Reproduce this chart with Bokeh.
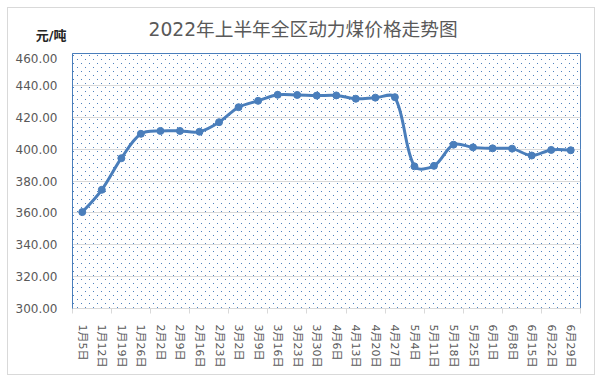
import base64, math, struct, zlib
from bokeh.plotting import figure
from bokeh.layouts import column
from bokeh.models import (Range1d, FixedTicker, NumeralTickFormatter,
                          BoxAnnotation, ImageURLTexture, ColumnDataSource)
from bokeh.core.properties import value
from bokeh.embed import file_html
from bokeh.resources import INLINE

# ---------------- data ----------------
categories = ["1月5日", "1月12日", "1月19日", "1月26日", "2月2日", "2月9日", "2月16日",
              "2月23日", "3月2日", "3月9日", "3月16日", "3月23日", "3月30日", "4月6日",
              "4月13日", "4月20日", "4月27日", "5月4日", "5月11日", "5月18日", "5月25日",
              "6月1日", "6月8日", "6月15日", "6月22日", "6月29日"]
prices = [360.5, 374.5, 394.3, 409.6, 411.4, 411.4, 410.9, 416.9, 426.3, 430.3,
          434.1, 434.0, 433.6, 433.7, 431.6, 432.3, 432.6, 389.2, 389.5, 402.8,
          401.1, 400.5, 400.3, 396.0, 399.5, 399.3]
y_ticks = [300, 320, 340, 360, 380, 400, 420, 440, 460]
title_text = "2022年上半年全区动力煤价格走势图"
unit_text = "元/吨"

FONT = "DejaVu Sans, Noto Sans CJK SC"
BLUE = "#4a7ebb"
GRID = "#d9d9d9"
TXT = "#595959"

W, H = 602, 382
ML, MR, MT, MB = 72, 22, 53, 74
FW, FH = W - ML - MR, H - MT - MB
HT = 16  # top border of the header strip

# ---------------- dotted texture (8x8 PNG) ----------------
def make_png(w, h, dots, rgba):
    rows = []
    for yy in range(h):
        row = bytearray(b"\x00")
        for xx in range(w):
            row += bytes(rgba) if (xx, yy) in dots else bytes([0, 0, 0, 0])
        rows.append(bytes(row))
    raw = b"".join(rows)

    def chunk(tag, data):
        c = tag + data
        return struct.pack(">I", len(data)) + c + struct.pack(">I", zlib.crc32(c) & 0xffffffff)

    ihdr = struct.pack(">IIBBBBB", w, h, 8, 6, 0, 0, 0)
    return (b"\x89PNG\r\n\x1a\n" + chunk(b"IHDR", ihdr) +
            chunk(b"IDAT", zlib.compress(raw)) + chunk(b"IEND", b""))


png = make_png(8, 8, {(5, 6), (1, 2)}, (79, 129, 189, 255))
tex_url = "data:image/png;base64," + base64.b64encode(png).decode()

# ---------------- header (title + unit) ----------------
head = figure(width=W, height=MT, output_backend="svg", toolbar_location=None,
              x_range=Range1d(ML, W - MR), y_range=Range1d(MT, HT),
              x_axis_type=None,
              min_border_left=ML, min_border_right=MR,
              min_border_top=HT, min_border_bottom=0)
head.background_fill_color = None
head.border_fill_color = None
head.outline_line_color = None
head.xgrid.grid_line_color = None
head.ygrid.grid_line_color = None
# unit shown as the (horizontal) label of an empty axis beside the header strip
head.yaxis.ticker = FixedTicker(ticks=[])
head.yaxis.axis_line_color = None
head.yaxis.major_tick_line_color = None
head.yaxis.minor_tick_line_color = None
head.yaxis.major_tick_out = 0
head.yaxis.major_label_standoff = 0
head.yaxis.axis_label = unit_text
head.yaxis.axis_label_orientation = "horizontal"
head.yaxis.axis_label_standoff = 6
head.yaxis.axis_label_text_font = FONT
head.yaxis.axis_label_text_font_size = "13px"
head.yaxis.axis_label_text_font_style = "bold"
head.yaxis.axis_label_text_color = "#262626"
head.text(x=[148], y=[28.5], text=[title_text], text_align="left", text_baseline="middle",
          text_font=value(FONT), text_font_size="18.7px", text_color=TXT)

# ---------------- main chart ----------------
n = len(categories)
xs = [i + 0.5 for i in range(n)]
y_lo, y_hi = y_ticks[0], y_ticks[-1]

p = figure(width=W, height=H - MT, output_backend="svg", toolbar_location=None,
           x_range=Range1d(0, n), y_range=Range1d(y_lo, y_hi),
           min_border_left=ML, min_border_right=MR, min_border_top=0,
           min_border_bottom=MB)
p.background_fill_color = "white"
p.border_fill_color = None
p.outline_line_color = BLUE
p.outline_line_width = 1

# dotted background
bg = BoxAnnotation(fill_alpha=0, line_alpha=0, level="underlay",
                   hatch_extra={"dots": ImageURLTexture(url=tex_url)},
                   hatch_pattern="dots", hatch_alpha=1.0)
p.add_layout(bg)

# grid
p.xgrid.grid_line_color = None
p.ygrid.grid_line_color = GRID
p.ygrid.grid_line_width = 1
p.ygrid.ticker = FixedTicker(ticks=y_ticks)

# y axis
p.yaxis.ticker = FixedTicker(ticks=y_ticks)
p.yaxis.formatter = NumeralTickFormatter(format="0.00")
p.yaxis.axis_line_color = BLUE
p.yaxis.major_tick_line_color = None
p.yaxis.minor_tick_line_color = None
p.yaxis.major_label_standoff = 9
p.yaxis.major_label_text_font = FONT
p.yaxis.major_label_text_font_size = "12px"
p.yaxis.major_label_text_color = TXT

# x axis
p.xaxis.ticker = FixedTicker(ticks=xs, minor_ticks=list(range(0, n + 1, 2)))
p.xaxis.major_label_overrides = {x: c for x, c in zip(xs, categories)}
p.xaxis.major_label_orientation = "vertical"
p.xaxis.axis_line_color = GRID
p.xaxis.major_tick_line_color = None
p.xaxis.minor_tick_line_color = GRID
p.xaxis.minor_tick_in = 0
p.xaxis.minor_tick_out = 5
p.xaxis.major_label_standoff = 10
p.xaxis.major_label_text_font = FONT
p.xaxis.major_label_text_font_size = "11px"
p.xaxis.major_label_text_color = TXT

# smoothed line: Bezier through the data points, control points scaled by
# neighbouring segment lengths (measured in screen pixels) like a spreadsheet's smooth line
kx, ky = FW / n, FH / (y_hi - y_lo)
pts = [(x * kx, v * ky) for x, v in zip(xs, prices)]


def dist(a, b):
    return math.hypot(a[0] - b[0], a[1] - b[1])


x0, y0, x1, y1, cx0, cy0, cx1, cy1 = [], [], [], [], [], [], [], []
for i in range(n - 1):
    pm = pts[max(i - 1, 0)]
    pa = pts[i]
    pb = pts[i + 1]
    pn = pts[min(i + 2, n - 1)]
    dab = dist(pa, pb)
    f1 = dab / (dist(pm, pa) + dab) / 3.0 if i > 0 else 0.0
    f2 = dab / (dab + dist(pb, pn)) / 3.0 if i + 2 < n else 0.0
    c1 = (pa[0] + (pb[0] - pm[0]) * f1, pa[1] + (pb[1] - pm[1]) * f1)
    c2 = (pb[0] - (pn[0] - pa[0]) * f2, pb[1] - (pn[1] - pa[1]) * f2)
    x0.append(pa[0] / kx); y0.append(pa[1] / ky)
    x1.append(pb[0] / kx); y1.append(pb[1] / ky)
    cx0.append(c1[0] / kx); cy0.append(c1[1] / ky)
    cx1.append(c2[0] / kx); cy1.append(c2[1] / ky)

p.bezier(x0=x0, y0=y0, x1=x1, y1=y1, cx0=cx0, cy0=cy0, cx1=cx1, cy1=cy1,
         line_color=BLUE, line_width=3, line_cap="round")
src = ColumnDataSource(dict(x=xs, y=prices))
p.scatter("x", "y", source=src, size=7, fill_color=BLUE, line_color=BLUE)

layout = column(head, p, spacing=0)
layout.styles = {"outline": "1px solid #d9d9d9", "outline-offset": "-8px"}

open("out.html", "w").write(file_html(layout, INLINE))
